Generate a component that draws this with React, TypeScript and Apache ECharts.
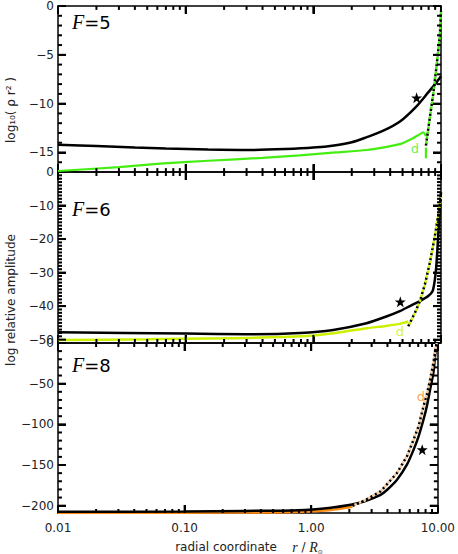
import React, { useEffect, useRef } from "react";
import * as echarts from "echarts";

// ---------- data ----------
const panelNames = ["5", "6", "8"];
const yMins = [-17, -51, -209];
const ySteps = [5, 10, 50];
const ySplitNumbers = [4, 5, 4];
const yMinorSplits = [5, 10, 5];

const xMajorTicks = [0.01, 0.1, 1, 10];
const xMinorTicks = [
  0.02, 0.03, 0.04, 0.05, 0.06, 0.07, 0.08, 0.09,
  0.2, 0.3, 0.4, 0.5, 0.6, 0.7, 0.8, 0.9,
  2, 3, 4, 5, 6, 7, 8, 9,
];

// F = 5
const f5BlackR = [0.01, 0.02, 0.04, 0.07, 0.15, 0.3, 0.6, 1.0, 1.5, 2.0, 2.6, 3.5, 4.8, 6.4, 8.0, 9.0, 10];
const f5BlackY = [-14.2, -14.35, -14.5, -14.6, -14.7, -14.75, -14.65, -14.5, -14.25, -13.95, -13.45, -12.8, -11.8, -10.3, -8.8, -8.0, -7.2];
const f5GreenR = [0.01, 0.03, 0.063, 0.15, 0.4, 0.785, 1.5, 2.6, 3.5, 4.76, 6.0, 6.8, 7.25, 7.62];
const f5GreenY = [-16.9, -16.5, -16.15, -15.85, -15.55, -15.3, -15.0, -14.75, -14.5, -14.15, -13.55, -13.15, -12.95, -13.3];
const f5DotR = [7.62, 8.2, 8.7, 9.2, 9.8, 10];
const f5DotY = [-14.3, -11.3, -9.0, -6.3, -3.0, -0.5];
const f5TailR = [7.62, 7.62];
const f5TailY = [-14.5, -15.6];
const f5Star = [6.44, -9.4];
const f5D = [6.25, -14.6];

// F = 6
const f6BlackR = [0.01, 0.1, 0.3, 0.785, 1.43, 2.61, 3.73, 4.76, 5.7, 6.84, 7.95, 8.6, 8.96, 9.23, 9.51, 9.8, 10];
const f6BlackY = [-47.8, -48.2, -48.4, -48.0, -47.1, -45.1, -43.1, -41.5, -40.0, -38.5, -37.0, -35.5, -32.0, -27.0, -19.0, -11.0, -6.0];
const f6YellowR = [0.01, 0.05, 0.2, 0.785, 1.5, 2.61, 3.7, 4.76, 5.54];
const f6YellowY = [-50.1, -49.9, -49.6, -49.0, -48.0, -46.6, -45.9, -45.3, -44.6];
const f6DotR = [5.54, 6.25, 6.84, 7.48, 8.19, 8.96, 9.51, 10];
const f6DotY = [-46.0, -42.0, -38.5, -33.5, -27.0, -19.0, -13.0, -7.5];
const f6Star = [4.8, -38.7];
const f6D = [4.76, -47.7];

// F = 8
const f8BlackR = [0.01, 0.1, 0.3, 0.785, 1.43, 2.05, 2.61, 3.53, 3.98, 4.76, 5.7, 6.44, 7.05, 7.71, 8.19, 8.69, 9.23, 9.51, 9.85];
const f8BlackY = [-207.6, -207.1, -206.5, -205.5, -202.4, -198.9, -194.8, -186.6, -180.4, -168.1, -149.6, -131.1, -114.7, -94.1, -77.7, -57.1, -36.5, -16.0, 0];
const f8OrangeR = [0.01, 0.1, 0.4, 0.785, 1.43, 2.12];
const f8OrangeY = [-208.9, -208.6, -208.3, -207.8, -205.2, -201.2];
const f8DotR = [2.12, 2.61, 3.53, 4.76, 5.7, 6.44, 7.05, 7.71, 8.19, 8.69, 9.23, 9.68, 9.8];
const f8DotY = [-200.1, -194.0, -182.5, -159.8, -139.3, -118.7, -102.3, -77.7, -63.3, -44.8, -24.2, -3.7, 0];
const f8Star = [7.53, -131.1];
const f8D = [7.35, -65.3];

// ---------- styles / layout ----------
const GREEN = "#44ee11";
const YELLOW = "#ccf000";
const ORANGE = "#ff8a10";
const PEACH = "#f8c898";
const INK = "#000";
const SANS = "DejaVu Sans";
const STAR =
  "path://M0,-10L2.35,-3.09L9.51,-3.09L3.8,1.18L5.88,8.09L0,3.82L-5.88,8.09L-3.8,1.18L-9.51,-3.09L-2.35,-3.09Z";

const W = 458;
const H = 554;
const GRID_LEFT = 58;
const GRID_RIGHT = 17;
const gridTops = [1, 172, 343];
const gridHeights = [171, 171, 170];
const MAJOR_LEN = 8;
const MINOR_LEN = 4;

function zip(r: number[], y: number[]) {
  return r.map((v, i) => [v, y[i]]);
}

function lineSeries(p: number, r: number[], y: number[], color: string, width: number, z = 3, smooth: any = false) {
  return {
    type: "line",
    xAxisIndex: 2 * p,
    yAxisIndex: 2 * p,
    data: zip(r, y),
    symbol: "none",
    smooth,
    z,
    lineStyle: { color, width, type: "solid" },
  };
}

function dotSeries(p: number, r: number[], y: number[], color: string) {
  const base = {
    type: "line",
    xAxisIndex: 2 * p,
    yAxisIndex: 2 * p,
    data: zip(r, y),
    symbol: "none",
    z: 5,
  };
  return [
    { ...base, lineStyle: { color: INK, width: 2.5, type: [2.5, 2.5], dashOffset: 0 } },
    { ...base, lineStyle: { color, width: 2.5, type: [2.5, 2.5], dashOffset: 2.5 } },
  ];
}

function starSeries(p: number, pt: number[]) {
  return {
    type: "scatter",
    xAxisIndex: 2 * p,
    yAxisIndex: 2 * p,
    data: [pt],
    symbol: STAR,
    symbolSize: 11,
    itemStyle: { color: INK, opacity: 1 },
    z: 6,
  };
}

function dSeries(p: number, pt: number[], color: string) {
  return {
    type: "scatter",
    xAxisIndex: 2 * p,
    yAxisIndex: 2 * p,
    data: [pt],
    symbolSize: 1,
    itemStyle: { color: "rgba(0,0,0,0)" },
    label: { show: true, position: "inside", formatter: "d", color, fontSize: 13, fontFamily: SANS },
    z: 6,
  };
}

// each tick mark is a two-point line series on the panel's own axes
function tickSeriesList(p: number) {
  const yMin = yMins[p];
  const yMax = 0;
  const step = ySteps[p];
  const minorStep = step / yMinorSplits[p];
  const pxPerY = gridHeights[p] / (yMax - yMin);
  const xLo = xMajorTicks[0];
  const xHi = xMajorTicks[xMajorTicks.length - 1];
  const pxPerDecade = (W - GRID_LEFT - GRID_RIGHT) / Math.log10(xHi / xLo);
  const out: any[] = [];
  const seg = (a: number[], b: number[]) => {
    out.push({
      type: "line",
      xAxisIndex: 2 * p,
      yAxisIndex: 2 * p,
      data: [a, b],
      symbol: "none",
      clip: false,
      z: 8,
      lineStyle: { color: "#000", width: 2, type: "solid", opacity: 1 },
    });
  };
  const xTick = (v: number, len: number) => {
    const d = len / pxPerY;
    seg([v, yMin], [v, yMin + d]);
    seg([v, yMax], [v, yMax - d]);
  };
  xMajorTicks.slice(1, -1).forEach((v) => xTick(v, MAJOR_LEN));
  xMinorTicks.forEach((v) => xTick(v, MINOR_LEN));
  for (let k = 1; ; k++) {
    const v = Math.round((yMax - k * minorStep) * 1000) / 1000;
    if (v <= yMin + 1e-9) break;
    const isMajor = Math.abs(v / step - Math.round(v / step)) < 1e-6;
    const len = isMajor ? MAJOR_LEN : MINOR_LEN;
    const f = Math.pow(10, len / pxPerDecade);
    seg([xLo, v], [xLo * f, v]);
    seg([xHi, v], [xHi / f, v]);
  }
  return out;
}

function fmtY(step: number) {
  return (v: number) => {
    if (Math.abs(v / step - Math.round(v / step)) > 1e-6) return "";
    if (v === 0) return "0";
    return (v < 0 ? "\u2212" : "") + Math.abs(v);
  };
}

function buildOption() {
  const grid: any[] = [];
  const xAxis: any[] = [];
  const yAxis: any[] = [];
  for (let p = 0; p < 3; p++) {
    grid.push({ left: GRID_LEFT, right: GRID_RIGHT, top: gridTops[p], height: gridHeights[p] });
    for (const pos of ["bottom", "top"]) {
      xAxis.push({
        type: "log",
        logBase: 10,
        gridIndex: p,
        position: pos,
        min: xMajorTicks[0],
        max: xMajorTicks[xMajorTicks.length - 1],
        axisLine: { show: true, onZero: false, lineStyle: { color: INK, width: 1.5 } },
        axisTick: { show: true, inside: true, length: MAJOR_LEN, lineStyle: { color: INK, width: 2 } },
        minorTick: { show: false },
        splitLine: { show: false },
        axisLabel: {
          show: p === 2 && pos === "bottom",
          formatter: (v: number) => v.toFixed(2),
          color: "#222",
          fontFamily: SANS,
          fontSize: 12,
          margin: 9,
        },
      });
    }
    for (const pos of ["left", "right"]) {
      yAxis.push({
        type: "value",
        gridIndex: p,
        position: pos,
        min: yMins[p],
        max: 0,
        splitNumber: ySplitNumbers[p],
        axisLine: { show: true, onZero: false, lineStyle: { color: INK, width: 1.5 } },
        axisTick: { show: true, inside: true, length: MAJOR_LEN, lineStyle: { color: INK, width: 2 } },
        minorTick: { show: false },
        splitLine: { show: false },
        minorSplitLine: { show: false },
        axisLabel: {
          show: pos === "left",
          formatter: fmtY(ySteps[p]),
          color: "#222",
          fontFamily: SANS,
          fontSize: 12,
          margin: 4,
        },
      });
    }
  }

  const series: any[] = [
    // F=5
    lineSeries(0, f5GreenR, f5GreenY, GREEN, 2.2, 3, 0.2),
    lineSeries(0, f5TailR, f5TailY, GREEN, 2.2),
    ...dotSeries(0, f5DotR, f5DotY, GREEN),
    lineSeries(0, f5BlackR, f5BlackY, INK, 2.5, 4, 0.3),
    starSeries(0, f5Star),
    dSeries(0, f5D, GREEN),
    // F=6
    lineSeries(1, f6YellowR, f6YellowY, YELLOW, 2.5, 3, 0.2),
    ...dotSeries(1, f6DotR, f6DotY, YELLOW),
    lineSeries(1, f6BlackR, f6BlackY, INK, 2.5, 4, 0.2),
    starSeries(1, f6Star),
    dSeries(1, f6D, YELLOW),
    // F=8
    lineSeries(2, f8OrangeR, f8OrangeY, ORANGE, 2.5, 3, 0.2),
    lineSeries(2, f8BlackR, f8BlackY, INK, 2.5, 4, 0.25),
    ...dotSeries(2, f8DotR, f8DotY, PEACH),
    starSeries(2, f8Star),
    dSeries(2, f8D, ORANGE),
    ...tickSeriesList(0),
    ...tickSeriesList(1),
    ...tickSeriesList(2),
  ];

  const fLabelY = [12, 199, 355];
  const graphic: any[] = panelNames.map((n, i) => ({
    type: "text",
    left: 72,
    top: fLabelY[i],
    z: 20,
    style: {
      text: "{f|F}{n|=" + n + "}",
      rich: {
        f: { fontFamily: "Liberation Serif", fontStyle: "italic", fontSize: 20, fill: INK },
        n: { fontFamily: SANS, fontSize: 18, fill: INK },
      },
    },
  }));
  graphic.push({
    type: "text",
    x: 11,
    y: 300,
    rotation: Math.PI / 2,
    style: {
      text: "log relative amplitude",
      fontFamily: SANS,
      fontSize: 12,
      fill: "#222",
      align: "center",
      verticalAlign: "middle",
    },
  });
  graphic.push({
    type: "text",
    x: 11,
    y: 110,
    rotation: Math.PI / 2,
    style: {
      text: "log\u2081\u2080( \u03c1 r\u00b2 )",
      fontFamily: SANS,
      fontSize: 12,
      fill: "#222",
      align: "center",
      verticalAlign: "middle",
    },
  });
  graphic.push({
    type: "text",
    x: 249,
    y: 547,
    style: {
      text: "{a|radial coordinate    }{i|r}{a| / }{i|R}{s|\u2299}",
      align: "center",
      verticalAlign: "middle",
      rich: {
        a: { fontFamily: SANS, fontSize: 12, fill: "#222" },
        i: { fontFamily: "Liberation Serif", fontStyle: "italic", fontSize: 14, fill: "#222" },
        s: { fontFamily: SANS, fontSize: 6, fill: "#222", padding: [8, 0, 0, 0] },
      },
    },
  });

  return { animation: false, backgroundColor: "#fff", grid, xAxis, yAxis, series, graphic };
}

export default function App() {
  const ref = useRef<HTMLDivElement>(null);
  useEffect(() => {
    document.body.style.margin = "0";
    if (!ref.current) return;
    const chart = echarts.init(ref.current, undefined, { renderer: "svg" });
    chart.setOption(buildOption() as any);
    return () => chart.dispose();
  }, []);
  return <div ref={ref} style={{ width: W, height: H }} />;
}
